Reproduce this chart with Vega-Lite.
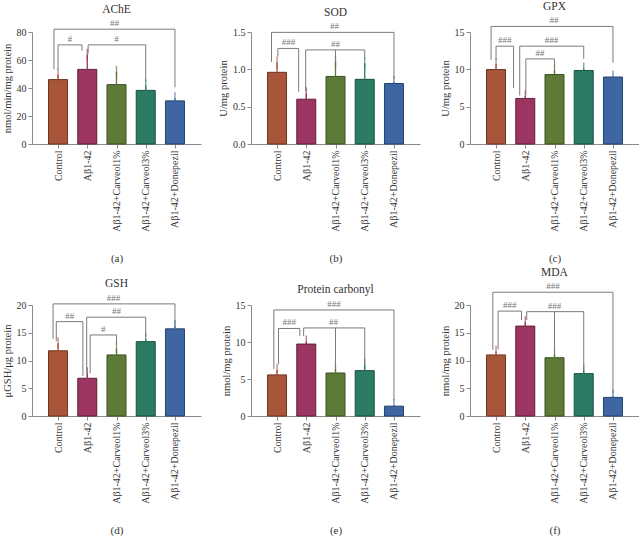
{
"$schema": "https://vega.github.io/schema/vega-lite/v6.json",
"padding": {"left": 2, "top": 0, "right": 0, "bottom": 0},
"config": {
 "font": "Liberation Serif",
 "view": {"stroke": null},
 "axis": {"grid": false, "labelOverlap": false, "labelBound": false, "labelFlush": false, "domainColor": "#8a8a8a", "tickColor": "#8a8a8a", "labelColor": "#333333", "titleColor": "#333333", "labelFontSize": 10, "titleFontSize": 10.5, "titleFontWeight": "normal", "tickSize": 4, "labelPadding": 2, "titlePadding": 4},
 "title": {"fontSize": 11.5, "fontWeight": "normal", "color": "#333333", "offset": 4},
 "rule": {"color": "#7a7a7a", "strokeWidth": 1}
},
"datasets": {
 "bars": [
  {"panel":"a","pos":0,"group":"Control","mean":46.0,"upper":49.7},
  {"panel":"a","pos":1,"group":"Aβ1-42","mean":53.3,"upper":63.8},
  {"panel":"a","pos":2,"group":"Aβ1-42+Carveol1%","mean":42.4,"upper":51.6},
  {"panel":"a","pos":3,"group":"Aβ1-42+Carveol3%","mean":38.3,"upper":42.0},
  {"panel":"a","pos":4,"group":"Aβ1-42+Donepezil","mean":30.8,"upper":32.7},
  {"panel":"b","pos":0,"group":"Control","mean":0.96,"upper":1.09},
  {"panel":"b","pos":1,"group":"Aβ1-42","mean":0.60,"upper":0.68},
  {"panel":"b","pos":2,"group":"Aβ1-42+Carveol1%","mean":0.905,"upper":1.10},
  {"panel":"b","pos":3,"group":"Aβ1-42+Carveol3%","mean":0.866,"upper":1.08},
  {"panel":"b","pos":4,"group":"Aβ1-42+Donepezil","mean":0.81,"upper":0.83},
  {"panel":"c","pos":0,"group":"Control","mean":9.97,"upper":10.7},
  {"panel":"c","pos":1,"group":"Aβ1-42","mean":6.1,"upper":6.4},
  {"panel":"c","pos":2,"group":"Aβ1-42+Carveol1%","mean":9.3,"upper":9.9},
  {"panel":"c","pos":3,"group":"Aβ1-42+Carveol3%","mean":9.84,"upper":10.1},
  {"panel":"c","pos":4,"group":"Aβ1-42+Donepezil","mean":8.97,"upper":9.05},
  {"panel":"d","pos":0,"group":"Control","mean":11.75,"upper":13.1},
  {"panel":"d","pos":1,"group":"Aβ1-42","mean":6.8,"upper":7.7},
  {"panel":"d","pos":2,"group":"Aβ1-42+Carveol1%","mean":11.0,"upper":12.2},
  {"panel":"d","pos":3,"group":"Aβ1-42+Carveol3%","mean":13.4,"upper":13.9},
  {"panel":"d","pos":4,"group":"Aβ1-42+Donepezil","mean":15.7,"upper":16.2},
  {"panel":"e","pos":0,"group":"Control","mean":5.55,"upper":6.26},
  {"panel":"e","pos":1,"group":"Aβ1-42","mean":9.72,"upper":10.08},
  {"panel":"e","pos":2,"group":"Aβ1-42+Carveol1%","mean":5.81,"upper":6.35},
  {"panel":"e","pos":3,"group":"Aβ1-42+Carveol3%","mean":6.13,"upper":6.94},
  {"panel":"e","pos":4,"group":"Aβ1-42+Donepezil","mean":1.33,"upper":1.5},
  {"panel":"f","pos":0,"group":"Control","mean":11.0,"upper":11.6},
  {"panel":"f","pos":1,"group":"Aβ1-42","mean":16.2,"upper":16.9},
  {"panel":"f","pos":2,"group":"Aβ1-42+Carveol1%","mean":10.5,"upper":11.1},
  {"panel":"f","pos":3,"group":"Aβ1-42+Carveol3%","mean":7.63,"upper":8.24},
  {"panel":"f","pos":4,"group":"Aβ1-42+Donepezil","mean":3.35,"upper":3.65}
 ],
 "legs": [
  {"panel":"a","x":0,"lo":52.9,"hi":70.8},
  {"panel":"a","x":0.82,"lo":66.7,"hi":70.8},
  {"panel":"a","x":1.03,"lo":64.7,"hi":70.8},
  {"panel":"a","x":3.0,"lo":44.8,"hi":70.8},
  {"panel":"a","x":-0.14,"lo":53.3,"hi":82},
  {"panel":"a","x":4.0,"lo":40.5,"hi":82},
  {"panel":"b","x":0.03,"lo":1.17,"hi":1.28},
  {"panel":"b","x":0.74,"lo":0.70,"hi":1.28},
  {"panel":"b","x":0.98,"lo":0.70,"hi":1.26},
  {"panel":"b","x":2.0,"lo":1.10,"hi":1.26},
  {"panel":"b","x":3.0,"lo":1.14,"hi":1.26},
  {"panel":"b","x":-0.19,"lo":1.10,"hi":1.495},
  {"panel":"b","x":4.0,"lo":0.87,"hi":1.495},
  {"panel":"c","x":0,"lo":11.25,"hi":13.1},
  {"panel":"c","x":0.6,"lo":7.5,"hi":13.1},
  {"panel":"c","x":0.81,"lo":6.5,"hi":13.1},
  {"panel":"c","x":3.0,"lo":11.4,"hi":13.1},
  {"panel":"c","x":1.02,"lo":6.5,"hi":11.4},
  {"panel":"c","x":2.0,"lo":10.1,"hi":11.4},
  {"panel":"c","x":-0.17,"lo":11.3,"hi":15.75},
  {"panel":"c","x":4.0,"lo":10.9,"hi":15.75},
  {"panel":"d","x":-0.06,"lo":13.5,"hi":17.0},
  {"panel":"d","x":0.85,"lo":7.2,"hi":17.0},
  {"panel":"d","x":0.98,"lo":7.7,"hi":17.8},
  {"panel":"d","x":3.0,"lo":14.3,"hi":17.8},
  {"panel":"d","x":1.1,"lo":7.7,"hi":14.6},
  {"panel":"d","x":2.0,"lo":12.7,"hi":14.6},
  {"panel":"d","x":-0.17,"lo":13.9,"hi":20.2},
  {"panel":"d","x":4.0,"lo":16.3,"hi":20.2},
  {"panel":"e","x":-0.11,"lo":6.35,"hi":14.33},
  {"panel":"e","x":4.0,"lo":2.1,"hi":14.33},
  {"panel":"e","x":0.05,"lo":7.0,"hi":11.83},
  {"panel":"e","x":0.78,"lo":10.8,"hi":11.83},
  {"panel":"e","x":0.91,"lo":10.8,"hi":11.9},
  {"panel":"e","x":2.0,"lo":6.35,"hi":11.9},
  {"panel":"e","x":3.0,"lo":7.0,"hi":11.9},
  {"panel":"f","x":-0.11,"lo":11.9,"hi":22.3},
  {"panel":"f","x":4.0,"lo":4.0,"hi":22.3},
  {"panel":"f","x":0.07,"lo":12.0,"hi":18.9},
  {"panel":"f","x":0.87,"lo":17.3,"hi":18.9},
  {"panel":"f","x":1.05,"lo":17.3,"hi":18.8},
  {"panel":"f","x":2.0,"lo":11.3,"hi":18.8},
  {"panel":"f","x":3.0,"lo":8.24,"hi":18.8}
 ],
 "spans": [
  {"panel":"a","x1":0,"x2":0.82,"y":70.8,"mid":0.41,"label":"#"},
  {"panel":"a","x1":1.03,"x2":3.0,"y":70.8,"mid":2.0,"label":"#"},
  {"panel":"a","x1":-0.14,"x2":4.0,"y":82,"mid":1.93,"label":"##"},
  {"panel":"b","x1":0.03,"x2":0.74,"y":1.28,"mid":0.39,"label":"###"},
  {"panel":"b","x1":0.98,"x2":3.0,"y":1.26,"mid":2.0,"label":"##"},
  {"panel":"b","x1":-0.19,"x2":4.0,"y":1.495,"mid":1.97,"label":"##"},
  {"panel":"c","x1":0,"x2":0.6,"y":13.1,"mid":0.3,"label":"###"},
  {"panel":"c","x1":0.81,"x2":3.0,"y":13.1,"mid":1.9,"label":"###"},
  {"panel":"c","x1":1.02,"x2":2.0,"y":11.4,"mid":1.5,"label":"##"},
  {"panel":"c","x1":-0.17,"x2":4.0,"y":15.75,"mid":1.98,"label":"##"},
  {"panel":"d","x1":-0.06,"x2":0.85,"y":17.0,"mid":0.4,"label":"##"},
  {"panel":"d","x1":0.98,"x2":3.0,"y":17.8,"mid":2.0,"label":"##"},
  {"panel":"d","x1":1.1,"x2":2.0,"y":14.6,"mid":1.55,"label":"#"},
  {"panel":"d","x1":-0.17,"x2":4.0,"y":20.2,"mid":1.9,"label":"###"},
  {"panel":"e","x1":-0.11,"x2":4.0,"y":14.33,"mid":1.95,"label":"###"},
  {"panel":"e","x1":0.05,"x2":0.78,"y":11.83,"mid":0.42,"label":"###"},
  {"panel":"e","x1":0.91,"x2":3.0,"y":11.9,"mid":1.93,"label":"##"},
  {"panel":"f","x1":-0.11,"x2":4.0,"y":22.3,"mid":1.95,"label":"###"},
  {"panel":"f","x1":0.07,"x2":0.87,"y":18.9,"mid":0.47,"label":"###"},
  {"panel":"f","x1":1.05,"x2":3.0,"y":18.8,"mid":2.0,"label":"###"}
 ]
},
"bounds": "flush",
"spacing": 273,
"vconcat": [
 {"bounds": "flush", "spacing": 50, "hconcat": [
  {"width":169,"height":112,"title":"AChE","layer":[
   {"data":{"name":"bars"},"transform":[{"filter":"datum.panel==='a'"}],"mark":{"type":"bar","size":19,"strokeWidth":1},
    "encoding":{"x":{"field":"pos","type":"quantitative","scale":{"domain":[-0.72,4.72],"nice":false,"zero":false},"axis":{"values":[0,1,2,3,4],"tickCount":20,"labelOverlap":false,"labelExpr":"['Control','Aβ1-42','Aβ1-42+Carveol1%','Aβ1-42+Carveol3%','Aβ1-42+Donepezil'][datum.value]","labelAngle":270,"title":"(a)","titleFontSize":11,"titlePadding":21}},
     "y":{"field":"mean","type":"quantitative","scale":{"domain":[0,80],"nice":false},"axis":{"values":[0,20,40,60,80],"tickCount":20,"labelOverlap":false,"title":"nmol/min/mg protein"}},
     "fill":{"field":"group","type":"nominal","scale":{"domain":["Control","Aβ1-42","Aβ1-42+Carveol1%","Aβ1-42+Carveol3%","Aβ1-42+Donepezil"],"range":["#a8553a","#9c3560","#5d7b36","#2c7c65","#3d66a3"]},"legend":null},
     "stroke":{"field":"group","type":"nominal","scale":{"domain":["Control","Aβ1-42","Aβ1-42+Carveol1%","Aβ1-42+Carveol3%","Aβ1-42+Donepezil"],"range":["#6e3322","#62203c","#3a5020","#18503f","#24416e"]},"legend":null}}},
   {"data":{"name":"bars"},"transform":[{"filter":"datum.panel==='a'"}],"mark":{"type":"rule","strokeWidth":1.3},
    "encoding":{"x":{"field":"pos","type":"quantitative"},"y":{"field":"mean","type":"quantitative","axis":{"values":[0,20,40,60,80],"tickCount":20,"labelOverlap":false,"title":"nmol/min/mg protein"}},"y2":{"field":"upper"},
     "color":{"field":"group","type":"nominal","scale":{"domain":["Control","Aβ1-42","Aβ1-42+Carveol1%","Aβ1-42+Carveol3%","Aβ1-42+Donepezil"],"range":["#a8553a","#9c3560","#5d7b36","#2c7c65","#3d66a3"]},"legend":null}}},
   {"data":{"name":"bars"},"transform":[{"filter":"datum.panel==='a'"}],"mark":{"type":"tick","size":12,"thickness":1.3,"orient":"vertical"},
    "encoding":{"x":{"field":"pos","type":"quantitative"},"y":{"field":"upper","type":"quantitative","axis":{"values":[0,20,40,60,80],"tickCount":20,"labelOverlap":false,"title":"nmol/min/mg protein"}},
     "color":{"field":"group","type":"nominal","scale":{"domain":["Control","Aβ1-42","Aβ1-42+Carveol1%","Aβ1-42+Carveol3%","Aβ1-42+Donepezil"],"range":["#a8553a","#9c3560","#5d7b36","#2c7c65","#3d66a3"]},"legend":null}}},
   {"data":{"name":"legs"},"transform":[{"filter":"datum.panel==='a'"}],"mark":{"type":"rule"},
    "encoding":{"x":{"field":"x","type":"quantitative"},"y":{"field":"lo","type":"quantitative","axis":{"values":[0,20,40,60,80],"tickCount":20,"labelOverlap":false,"title":"nmol/min/mg protein"}},"y2":{"field":"hi"}}},
   {"data":{"name":"spans"},"transform":[{"filter":"datum.panel==='a'"}],"mark":{"type":"rule"},
    "encoding":{"x":{"field":"x1","type":"quantitative"},"x2":{"field":"x2"},"y":{"field":"y","type":"quantitative","axis":{"values":[0,20,40,60,80],"tickCount":20,"labelOverlap":false,"title":"nmol/min/mg protein"}}}},
   {"data":{"name":"spans"},"transform":[{"filter":"datum.panel==='a'"}],"mark":{"type":"text","baseline":"bottom","dy":-1,"fontSize":9,"color":"#777777"},
    "encoding":{"x":{"field":"mid","type":"quantitative"},"y":{"field":"y","type":"quantitative","axis":{"values":[0,20,40,60,80],"tickCount":20,"labelOverlap":false,"title":"nmol/min/mg protein"}},"text":{"field":"label"}}}
  ]},
  {"width":169,"height":112,"title":"SOD","layer":[
   {"data":{"name":"bars"},"transform":[{"filter":"datum.panel==='b'"}],"mark":{"type":"bar","size":19,"strokeWidth":1},
    "encoding":{"x":{"field":"pos","type":"quantitative","scale":{"domain":[-0.72,4.72],"nice":false,"zero":false},"axis":{"values":[0,1,2,3,4],"tickCount":20,"labelOverlap":false,"labelExpr":"['Control','Aβ1-42','Aβ1-42+Carveol1%','Aβ1-42+Carveol3%','Aβ1-42+Donepezil'][datum.value]","labelAngle":270,"title":"(b)","titleFontSize":11,"titlePadding":21}},
     "y":{"field":"mean","type":"quantitative","scale":{"domain":[0,1.5],"nice":false},"axis":{"values":[0,0.5,1,1.5],"tickCount":20,"labelOverlap":false,"format":".1f","title":"U/mg protein"}},
     "fill":{"field":"group","type":"nominal","scale":{"domain":["Control","Aβ1-42","Aβ1-42+Carveol1%","Aβ1-42+Carveol3%","Aβ1-42+Donepezil"],"range":["#a8553a","#9c3560","#5d7b36","#2c7c65","#3d66a3"]},"legend":null},
     "stroke":{"field":"group","type":"nominal","scale":{"domain":["Control","Aβ1-42","Aβ1-42+Carveol1%","Aβ1-42+Carveol3%","Aβ1-42+Donepezil"],"range":["#6e3322","#62203c","#3a5020","#18503f","#24416e"]},"legend":null}}},
   {"data":{"name":"bars"},"transform":[{"filter":"datum.panel==='b'"}],"mark":{"type":"rule","strokeWidth":1.3},
    "encoding":{"x":{"field":"pos","type":"quantitative"},"y":{"field":"mean","type":"quantitative"},"y2":{"field":"upper"},
     "color":{"field":"group","type":"nominal","scale":{"domain":["Control","Aβ1-42","Aβ1-42+Carveol1%","Aβ1-42+Carveol3%","Aβ1-42+Donepezil"],"range":["#a8553a","#9c3560","#5d7b36","#2c7c65","#3d66a3"]},"legend":null}}},
   {"data":{"name":"bars"},"transform":[{"filter":"datum.panel==='b'"}],"mark":{"type":"tick","size":12,"thickness":1.3,"orient":"vertical"},
    "encoding":{"x":{"field":"pos","type":"quantitative"},"y":{"field":"upper","type":"quantitative"},
     "color":{"field":"group","type":"nominal","scale":{"domain":["Control","Aβ1-42","Aβ1-42+Carveol1%","Aβ1-42+Carveol3%","Aβ1-42+Donepezil"],"range":["#a8553a","#9c3560","#5d7b36","#2c7c65","#3d66a3"]},"legend":null}}},
   {"data":{"name":"legs"},"transform":[{"filter":"datum.panel==='b'"}],"mark":{"type":"rule"},
    "encoding":{"x":{"field":"x","type":"quantitative"},"y":{"field":"lo","type":"quantitative"},"y2":{"field":"hi"}}},
   {"data":{"name":"spans"},"transform":[{"filter":"datum.panel==='b'"}],"mark":{"type":"rule"},
    "encoding":{"x":{"field":"x1","type":"quantitative"},"x2":{"field":"x2"},"y":{"field":"y","type":"quantitative"}}},
   {"data":{"name":"spans"},"transform":[{"filter":"datum.panel==='b'"}],"mark":{"type":"text","baseline":"bottom","dy":-1,"fontSize":9,"color":"#777777"},
    "encoding":{"x":{"field":"mid","type":"quantitative"},"y":{"field":"y","type":"quantitative"},"text":{"field":"label"}}}
  ]},
  {"width":169,"height":112,"title":"GPX","layer":[
   {"data":{"name":"bars"},"transform":[{"filter":"datum.panel==='c'"}],"mark":{"type":"bar","size":19,"strokeWidth":1},
    "encoding":{"x":{"field":"pos","type":"quantitative","scale":{"domain":[-0.72,4.72],"nice":false,"zero":false},"axis":{"values":[0,1,2,3,4],"tickCount":20,"labelOverlap":false,"labelExpr":"['Control','Aβ1-42','Aβ1-42+Carveol1%','Aβ1-42+Carveol3%','Aβ1-42+Donepezil'][datum.value]","labelAngle":270,"title":"(c)","titleFontSize":11,"titlePadding":21}},
     "y":{"field":"mean","type":"quantitative","scale":{"domain":[0,15],"nice":false},"axis":{"values":[0,5,10,15],"tickCount":20,"labelOverlap":false,"title":"U/mg protein"}},
     "fill":{"field":"group","type":"nominal","scale":{"domain":["Control","Aβ1-42","Aβ1-42+Carveol1%","Aβ1-42+Carveol3%","Aβ1-42+Donepezil"],"range":["#a8553a","#9c3560","#5d7b36","#2c7c65","#3d66a3"]},"legend":null},
     "stroke":{"field":"group","type":"nominal","scale":{"domain":["Control","Aβ1-42","Aβ1-42+Carveol1%","Aβ1-42+Carveol3%","Aβ1-42+Donepezil"],"range":["#6e3322","#62203c","#3a5020","#18503f","#24416e"]},"legend":null}}},
   {"data":{"name":"bars"},"transform":[{"filter":"datum.panel==='c'"}],"mark":{"type":"rule","strokeWidth":1.3},
    "encoding":{"x":{"field":"pos","type":"quantitative"},"y":{"field":"mean","type":"quantitative"},"y2":{"field":"upper"},
     "color":{"field":"group","type":"nominal","scale":{"domain":["Control","Aβ1-42","Aβ1-42+Carveol1%","Aβ1-42+Carveol3%","Aβ1-42+Donepezil"],"range":["#a8553a","#9c3560","#5d7b36","#2c7c65","#3d66a3"]},"legend":null}}},
   {"data":{"name":"bars"},"transform":[{"filter":"datum.panel==='c'"}],"mark":{"type":"tick","size":12,"thickness":1.3,"orient":"vertical"},
    "encoding":{"x":{"field":"pos","type":"quantitative"},"y":{"field":"upper","type":"quantitative"},
     "color":{"field":"group","type":"nominal","scale":{"domain":["Control","Aβ1-42","Aβ1-42+Carveol1%","Aβ1-42+Carveol3%","Aβ1-42+Donepezil"],"range":["#a8553a","#9c3560","#5d7b36","#2c7c65","#3d66a3"]},"legend":null}}},
   {"data":{"name":"legs"},"transform":[{"filter":"datum.panel==='c'"}],"mark":{"type":"rule"},
    "encoding":{"x":{"field":"x","type":"quantitative"},"y":{"field":"lo","type":"quantitative"},"y2":{"field":"hi"}}},
   {"data":{"name":"spans"},"transform":[{"filter":"datum.panel==='c'"}],"mark":{"type":"rule"},
    "encoding":{"x":{"field":"x1","type":"quantitative"},"x2":{"field":"x2"},"y":{"field":"y","type":"quantitative"}}},
   {"data":{"name":"spans"},"transform":[{"filter":"datum.panel==='c'"}],"mark":{"type":"text","baseline":"bottom","dy":-1,"fontSize":9,"color":"#777777"},
    "encoding":{"x":{"field":"mid","type":"quantitative"},"y":{"field":"y","type":"quantitative"},"text":{"field":"label"}}}
  ]}
 ]},
 {"bounds": "flush", "spacing": 50, "hconcat": [
  {"width":169,"height":111,"title":"GSH","layer":[
   {"data":{"name":"bars"},"transform":[{"filter":"datum.panel==='d'"}],"mark":{"type":"bar","size":19,"strokeWidth":1},
    "encoding":{"x":{"field":"pos","type":"quantitative","scale":{"domain":[-0.72,4.72],"nice":false,"zero":false},"axis":{"values":[0,1,2,3,4],"tickCount":20,"labelOverlap":false,"labelExpr":"['Control','Aβ1-42','Aβ1-42+Carveol1%','Aβ1-42+Carveol3%','Aβ1-42+Donepezil'][datum.value]","labelAngle":270,"title":"(d)","titleFontSize":11,"titlePadding":21}},
     "y":{"field":"mean","type":"quantitative","scale":{"domain":[0,20],"nice":false},"axis":{"values":[0,5,10,15,20],"tickCount":20,"labelOverlap":false,"title":"μGSH/μg protein"}},
     "fill":{"field":"group","type":"nominal","scale":{"domain":["Control","Aβ1-42","Aβ1-42+Carveol1%","Aβ1-42+Carveol3%","Aβ1-42+Donepezil"],"range":["#a8553a","#9c3560","#5d7b36","#2c7c65","#3d66a3"]},"legend":null},
     "stroke":{"field":"group","type":"nominal","scale":{"domain":["Control","Aβ1-42","Aβ1-42+Carveol1%","Aβ1-42+Carveol3%","Aβ1-42+Donepezil"],"range":["#6e3322","#62203c","#3a5020","#18503f","#24416e"]},"legend":null}}},
   {"data":{"name":"bars"},"transform":[{"filter":"datum.panel==='d'"}],"mark":{"type":"rule","strokeWidth":1.3},
    "encoding":{"x":{"field":"pos","type":"quantitative"},"y":{"field":"mean","type":"quantitative"},"y2":{"field":"upper"},
     "color":{"field":"group","type":"nominal","scale":{"domain":["Control","Aβ1-42","Aβ1-42+Carveol1%","Aβ1-42+Carveol3%","Aβ1-42+Donepezil"],"range":["#a8553a","#9c3560","#5d7b36","#2c7c65","#3d66a3"]},"legend":null}}},
   {"data":{"name":"bars"},"transform":[{"filter":"datum.panel==='d'"}],"mark":{"type":"tick","size":12,"thickness":1.3,"orient":"vertical"},
    "encoding":{"x":{"field":"pos","type":"quantitative"},"y":{"field":"upper","type":"quantitative"},
     "color":{"field":"group","type":"nominal","scale":{"domain":["Control","Aβ1-42","Aβ1-42+Carveol1%","Aβ1-42+Carveol3%","Aβ1-42+Donepezil"],"range":["#a8553a","#9c3560","#5d7b36","#2c7c65","#3d66a3"]},"legend":null}}},
   {"data":{"name":"legs"},"transform":[{"filter":"datum.panel==='d'"}],"mark":{"type":"rule"},
    "encoding":{"x":{"field":"x","type":"quantitative"},"y":{"field":"lo","type":"quantitative"},"y2":{"field":"hi"}}},
   {"data":{"name":"spans"},"transform":[{"filter":"datum.panel==='d'"}],"mark":{"type":"rule"},
    "encoding":{"x":{"field":"x1","type":"quantitative"},"x2":{"field":"x2"},"y":{"field":"y","type":"quantitative"}}},
   {"data":{"name":"spans"},"transform":[{"filter":"datum.panel==='d'"}],"mark":{"type":"text","baseline":"bottom","dy":-1,"fontSize":9,"color":"#777777"},
    "encoding":{"x":{"field":"mid","type":"quantitative"},"y":{"field":"y","type":"quantitative"},"text":{"field":"label"}}}
  ]},
  {"width":169,"height":111,"title":"Protein carbonyl","layer":[
   {"data":{"name":"bars"},"transform":[{"filter":"datum.panel==='e'"}],"mark":{"type":"bar","size":19,"strokeWidth":1},
    "encoding":{"x":{"field":"pos","type":"quantitative","scale":{"domain":[-0.72,4.72],"nice":false,"zero":false},"axis":{"values":[0,1,2,3,4],"tickCount":20,"labelOverlap":false,"labelExpr":"['Control','Aβ1-42','Aβ1-42+Carveol1%','Aβ1-42+Carveol3%','Aβ1-42+Donepezil'][datum.value]","labelAngle":270,"title":"(e)","titleFontSize":11,"titlePadding":21}},
     "y":{"field":"mean","type":"quantitative","scale":{"domain":[0,15],"nice":false},"axis":{"values":[0,5,10,15],"tickCount":20,"labelOverlap":false,"title":"nmol/mg protein"}},
     "fill":{"field":"group","type":"nominal","scale":{"domain":["Control","Aβ1-42","Aβ1-42+Carveol1%","Aβ1-42+Carveol3%","Aβ1-42+Donepezil"],"range":["#a8553a","#9c3560","#5d7b36","#2c7c65","#3d66a3"]},"legend":null},
     "stroke":{"field":"group","type":"nominal","scale":{"domain":["Control","Aβ1-42","Aβ1-42+Carveol1%","Aβ1-42+Carveol3%","Aβ1-42+Donepezil"],"range":["#6e3322","#62203c","#3a5020","#18503f","#24416e"]},"legend":null}}},
   {"data":{"name":"bars"},"transform":[{"filter":"datum.panel==='e'"}],"mark":{"type":"rule","strokeWidth":1.3},
    "encoding":{"x":{"field":"pos","type":"quantitative"},"y":{"field":"mean","type":"quantitative"},"y2":{"field":"upper"},
     "color":{"field":"group","type":"nominal","scale":{"domain":["Control","Aβ1-42","Aβ1-42+Carveol1%","Aβ1-42+Carveol3%","Aβ1-42+Donepezil"],"range":["#a8553a","#9c3560","#5d7b36","#2c7c65","#3d66a3"]},"legend":null}}},
   {"data":{"name":"bars"},"transform":[{"filter":"datum.panel==='e'"}],"mark":{"type":"tick","size":12,"thickness":1.3,"orient":"vertical"},
    "encoding":{"x":{"field":"pos","type":"quantitative"},"y":{"field":"upper","type":"quantitative"},
     "color":{"field":"group","type":"nominal","scale":{"domain":["Control","Aβ1-42","Aβ1-42+Carveol1%","Aβ1-42+Carveol3%","Aβ1-42+Donepezil"],"range":["#a8553a","#9c3560","#5d7b36","#2c7c65","#3d66a3"]},"legend":null}}},
   {"data":{"name":"legs"},"transform":[{"filter":"datum.panel==='e'"}],"mark":{"type":"rule"},
    "encoding":{"x":{"field":"x","type":"quantitative"},"y":{"field":"lo","type":"quantitative"},"y2":{"field":"hi"}}},
   {"data":{"name":"spans"},"transform":[{"filter":"datum.panel==='e'"}],"mark":{"type":"rule"},
    "encoding":{"x":{"field":"x1","type":"quantitative"},"x2":{"field":"x2"},"y":{"field":"y","type":"quantitative"}}},
   {"data":{"name":"spans"},"transform":[{"filter":"datum.panel==='e'"}],"mark":{"type":"text","baseline":"bottom","dy":-1,"fontSize":9,"color":"#777777"},
    "encoding":{"x":{"field":"mid","type":"quantitative"},"y":{"field":"y","type":"quantitative"},"text":{"field":"label"}}}
  ]},
  {"width":169,"height":111,"title":"MDA","layer":[
   {"data":{"name":"bars"},"transform":[{"filter":"datum.panel==='f'"}],"mark":{"type":"bar","size":19,"strokeWidth":1},
    "encoding":{"x":{"field":"pos","type":"quantitative","scale":{"domain":[-0.72,4.72],"nice":false,"zero":false},"axis":{"values":[0,1,2,3,4],"tickCount":20,"labelOverlap":false,"labelExpr":"['Control','Aβ1-42','Aβ1-42+Carveol1%','Aβ1-42+Carveol3%','Aβ1-42+Donepezil'][datum.value]","labelAngle":270,"title":"(f)","titleFontSize":11,"titlePadding":21}},
     "y":{"field":"mean","type":"quantitative","scale":{"domain":[0,20],"nice":false},"axis":{"values":[0,5,10,15,20],"tickCount":20,"labelOverlap":false,"title":"nmol/mg protein"}},
     "fill":{"field":"group","type":"nominal","scale":{"domain":["Control","Aβ1-42","Aβ1-42+Carveol1%","Aβ1-42+Carveol3%","Aβ1-42+Donepezil"],"range":["#a8553a","#9c3560","#5d7b36","#2c7c65","#3d66a3"]},"legend":null},
     "stroke":{"field":"group","type":"nominal","scale":{"domain":["Control","Aβ1-42","Aβ1-42+Carveol1%","Aβ1-42+Carveol3%","Aβ1-42+Donepezil"],"range":["#6e3322","#62203c","#3a5020","#18503f","#24416e"]},"legend":null}}},
   {"data":{"name":"bars"},"transform":[{"filter":"datum.panel==='f'"}],"mark":{"type":"rule","strokeWidth":1.3},
    "encoding":{"x":{"field":"pos","type":"quantitative"},"y":{"field":"mean","type":"quantitative"},"y2":{"field":"upper"},
     "color":{"field":"group","type":"nominal","scale":{"domain":["Control","Aβ1-42","Aβ1-42+Carveol1%","Aβ1-42+Carveol3%","Aβ1-42+Donepezil"],"range":["#a8553a","#9c3560","#5d7b36","#2c7c65","#3d66a3"]},"legend":null}}},
   {"data":{"name":"bars"},"transform":[{"filter":"datum.panel==='f'"}],"mark":{"type":"tick","size":12,"thickness":1.3,"orient":"vertical"},
    "encoding":{"x":{"field":"pos","type":"quantitative"},"y":{"field":"upper","type":"quantitative"},
     "color":{"field":"group","type":"nominal","scale":{"domain":["Control","Aβ1-42","Aβ1-42+Carveol1%","Aβ1-42+Carveol3%","Aβ1-42+Donepezil"],"range":["#a8553a","#9c3560","#5d7b36","#2c7c65","#3d66a3"]},"legend":null}}},
   {"data":{"name":"legs"},"transform":[{"filter":"datum.panel==='f'"}],"mark":{"type":"rule"},
    "encoding":{"x":{"field":"x","type":"quantitative"},"y":{"field":"lo","type":"quantitative"},"y2":{"field":"hi"}}},
   {"data":{"name":"spans"},"transform":[{"filter":"datum.panel==='f'"}],"mark":{"type":"rule"},
    "encoding":{"x":{"field":"x1","type":"quantitative"},"x2":{"field":"x2"},"y":{"field":"y","type":"quantitative"}}},
   {"data":{"name":"spans"},"transform":[{"filter":"datum.panel==='f'"}],"mark":{"type":"text","baseline":"bottom","dy":-1,"fontSize":9,"color":"#777777"},
    "encoding":{"x":{"field":"mid","type":"quantitative"},"y":{"field":"y","type":"quantitative"},"text":{"field":"label"}}}
  ]}
 ]}
]
}
